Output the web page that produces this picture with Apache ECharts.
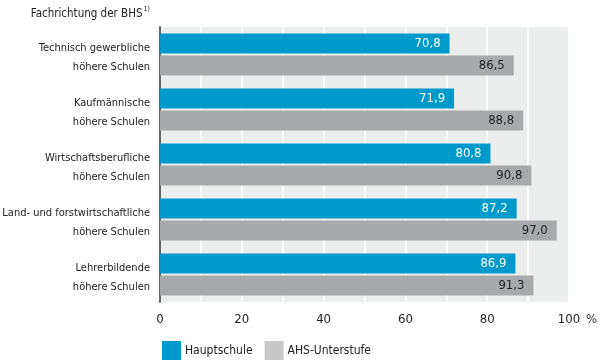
<!DOCTYPE html>
<html><head><meta charset="utf-8">
<script src="https://cdn.jsdelivr.net/npm/echarts@6/dist/echarts.min.js"></script>
<style>html,body{margin:0;padding:0;background:#fff}#c{width:603px;height:361px}</style>
</head><body><div id="c"></div>
<script>
const categories = ["Technisch gewerbliche\nhöhere Schulen","Kaufmännische\nhöhere Schulen","Wirtschaftsberufliche\nhöhere Schulen","Land- und forstwirtschaftliche\nhöhere Schulen","Lehrerbildende\nhöhere Schulen"];
const hauptschule = [70.8, 71.9, 80.8, 87.2, 86.9];
const ahs = [86.5, 88.8, 90.8, 97.0, 91.3];
const xTicks = [0, 20, 40, 60, 80, 100];
const FONT = '"Liberation Sans Narrow","DejaVu Sans Condensed",sans-serif';
const fmt = v => v.toFixed(1).replace('.', ',');
const chart = echarts.init(document.getElementById('c'));
chart.setOption({
  animation: false,
  grid: {left: 160, right: 34, top: 27, bottom: 59, show: true, backgroundColor: '#eceded', borderWidth: 0,
    containLabel: false, outerBoundsMode: 'none'},
  xAxis: {type: 'value', min: 0, max: 100, interval: 10,
    axisLine: {show: false}, axisTick: {show: false},
    splitLine: {show: true, lineStyle: {color: '#ffffff', width: 1.5}},
    axisLabel: {fontFamily: FONT, fontSize: 13, color: '#222', margin: 11,
      formatter: v => xTicks.includes(v) ? String(v) : ''},
    name: '%', nameLocation: 'end', nameGap: 16,
    nameTextStyle: {fontFamily: FONT, fontSize: 13, color: '#333', verticalAlign: 'top', padding: [11,0,0,0]}
  },
  yAxis: {type: 'category', data: categories, inverse: true,
    axisLine: {show: true, lineStyle: {color: '#666', width: 2}},
    axisTick: {show: false}, splitLine: {show: false},
    axisLabel: {fontFamily: FONT, fontSize: 11, color: '#222', margin: 10, align: 'right',
      formatter: v => '{sp| }\n' + v.split('\n').map(s => '{t|' + s + '}').join('\n'),
      rich: {sp: {fontSize: 4, lineHeight: 6, height: 6},
             t: {fontFamily: FONT, fontSize: 11, color: '#222', lineHeight: 19, align: 'right'}}}
  },
  legend: {left: 157, top: 336, itemWidth: 19, itemHeight: 19, itemGap: 12, icon: 'rect',
    textStyle: {fontFamily: FONT, fontSize: 12, color: '#222', padding: [0,0,0,-1]},
    data: [{name: 'Hauptschule', itemStyle: {color: '#0099cc'}}, {name: 'AHS-Unterstufe', itemStyle: {color: '#c8c8c9'}}]
  },
  graphic: [{type: 'text', right: 603-150, top: 6,
    style: {text: '{a|Fachrichtung der BHS}{s|1)}', rich: {
      a: {fontFamily: FONT, fontSize: 11.5, fill: '#222', verticalAlign: 'bottom'},
      s: {fontFamily: FONT, fontSize: 7, fill: '#222', verticalAlign: 'top', padding: [0,0,7,1]}}}}],
  series: [
    {name: 'Hauptschule', type: 'bar', data: hauptschule, barWidth: 20, barGap: '10%',
      itemStyle: {color: '#0099cc'},
      label: {show: true, position: 'insideRight', distance: 9, color: '#fff', fontFamily: FONT, fontSize: 13, formatter: p => fmt(p.value)}},
    {name: 'AHS-Unterstufe', type: 'bar', data: ahs, barWidth: 20,
      itemStyle: {color: '#a8a9ab'},
      label: {show: true, position: 'insideRight', distance: 9, color: '#222', fontFamily: FONT, fontSize: 13, formatter: p => fmt(p.value)}}
  ]
});
</script></body></html>
